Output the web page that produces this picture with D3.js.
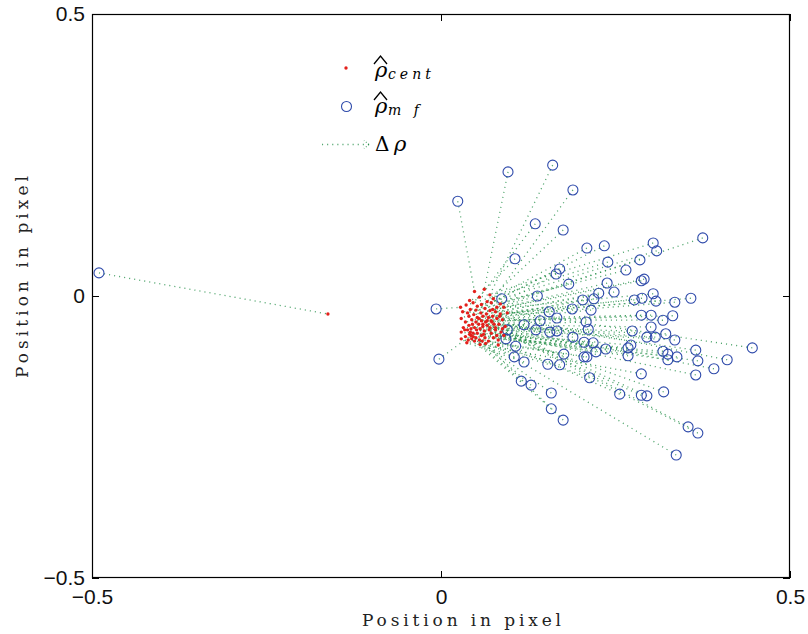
<!DOCTYPE html>
<html>
<head>
<meta charset="utf-8">
<script src="https://cdn.jsdelivr.net/npm/d3@7/dist/d3.min.js"></script>
<style>
  body { margin: 0; background: #fff; }
</style>
</head>
<body>
<svg id="chart" width="808" height="634"></svg>
<script>
// matched-filter estimates (circles)
const mfX = [-0.490, -0.007, -0.003, 0.024, 0.096, 0.160, 0.189, 0.135, 0.175, 0.209,
  0.234, 0.304, 0.309, 0.375, 0.106, 0.239, 0.285, 0.170, 0.165, 0.265,
  0.287, 0.291, 0.183, 0.238, 0.226, 0.248, 0.304, 0.277, 0.288, 0.308,
  0.335, 0.358, 0.138, 0.087, 0.203, 0.219, 0.188, 0.215, 0.155, 0.166,
  0.287, 0.301, 0.332, 0.318, 0.208, 0.142, 0.119, 0.211, 0.301, 0.136,
  0.156, 0.166, 0.095, 0.274, 0.295, 0.307, 0.322, 0.335, 0.093, 0.189,
  0.205, 0.218, 0.107, 0.268, 0.272, 0.236, 0.222, 0.365, 0.446, 0.318,
  0.325, 0.338, 0.176, 0.268, 0.205, 0.209, 0.410, 0.368, 0.325, 0.119,
  0.153, 0.170, 0.105, 0.391, 0.365, 0.287, 0.213, 0.115, 0.129, 0.158,
  0.256, 0.287, 0.295, 0.319, 0.158, 0.175, 0.354, 0.368, 0.337];
const mfY = [0.041, -0.023, -0.112, 0.168, 0.220, 0.232, 0.188, 0.128, 0.117, 0.085,
  0.089, 0.094, 0.080, 0.103, 0.066, 0.060, 0.064, 0.048, 0.039, 0.046,
  0.027, 0.030, 0.021, 0.023, 0.005, 0.007, 0.004, -0.007, -0.004, -0.009,
  -0.011, -0.004, 0.000, -0.005, -0.007, -0.005, -0.023, -0.025, -0.028, -0.039,
  -0.034, -0.034, -0.035, -0.043, -0.046, -0.044, -0.051, -0.059, -0.055, -0.060,
  -0.064, -0.062, -0.060, -0.062, -0.073, -0.073, -0.067, -0.078, -0.076, -0.073,
  -0.082, -0.083, -0.089, -0.092, -0.087, -0.094, -0.099, -0.096, -0.092, -0.098,
  -0.103, -0.108, -0.103, -0.106, -0.108, -0.108, -0.113, -0.115, -0.113, -0.117,
  -0.121, -0.122, -0.108, -0.129, -0.140, -0.138, -0.145, -0.151, -0.158, -0.172,
  -0.174, -0.176, -0.177, -0.170, -0.200, -0.220, -0.232, -0.243, -0.282];

// centroid estimates (red dots), same order
const centX = [-0.162, 0.028, 0.043, 0.048, 0.062, 0.070, 0.075, 0.055, 0.066, 0.058,
  0.072, 0.041, 0.052, 0.080, 0.046, 0.036, 0.063, 0.050, 0.085, 0.042,
  0.070, 0.090, 0.038, 0.057, 0.065, 0.078, 0.031, 0.047, 0.060, 0.085,
  0.052, 0.095, 0.040, 0.029, 0.068, 0.074, 0.044, 0.058, 0.035, 0.064,
  0.080, 0.050, 0.072, 0.088, 0.040, 0.054, 0.032, 0.066, 0.045, 0.076,
  0.060, 0.083, 0.038, 0.070, 0.056, 0.092, 0.048, 0.078, 0.029, 0.062,
  0.042, 0.086, 0.035, 0.052, 0.072, 0.058, 0.080, 0.066, 0.074, 0.046,
  0.090, 0.063, 0.039, 0.075, 0.055, 0.068, 0.084, 0.051, 0.061, 0.037,
  0.048, 0.064, 0.029, 0.078, 0.043, 0.056, 0.082, 0.041, 0.050, 0.034,
  0.082, 0.060, 0.088, 0.069, 0.044, 0.059, 0.073, 0.054, 0.046];
const centY = [-0.032, -0.020, -0.070, 0.008, 0.012, 0.002, -0.005, -0.002, -0.010, -0.015,
  -0.012, -0.008, -0.018, -0.020, -0.012, -0.016, -0.022, -0.025, -0.014, -0.024,
  -0.026, -0.020, -0.030, -0.030, -0.032, -0.028, -0.028, -0.033, -0.036, -0.032,
  -0.038, -0.030, -0.036, -0.040, -0.038, -0.036, -0.042, -0.044, -0.046, -0.046,
  -0.040, -0.046, -0.044, -0.042, -0.052, -0.050, -0.056, -0.052, -0.050, -0.050,
  -0.054, -0.050, -0.060, -0.056, -0.058, -0.054, -0.056, -0.060, -0.064, -0.062,
  -0.064, -0.064, -0.072, -0.066, -0.066, -0.070, -0.070, -0.044, -0.024, -0.072,
  -0.070, -0.074, -0.078, -0.074, -0.078, -0.080, -0.036, -0.060, -0.068, -0.083,
  -0.080, -0.084, -0.076, -0.056, -0.058, -0.086, -0.087, -0.068, -0.074, -0.060,
  -0.078, -0.050, -0.058, -0.060, -0.076, -0.080, -0.046, -0.040, -0.066];

const xTicks = [-0.5, 0, 0.5];
const yTicks = [-0.5, 0, 0.5];
const tickLabels = ["\u22120.5", "0", "0.5"];
const axisTitle = "Position in pixel";

function main() {
    const svg = d3.select("#chart");
    const left = 92, right = 790, top = 14, bottom = 578;

    const x = d3.scaleLinear().domain([-0.5, 0.5]).range([left, right]);
    const y = d3.scaleLinear().domain([-0.5, 0.5]).range([bottom, top]);

    const tickFont = "'Liberation Sans', Arial, sans-serif";
    const serif = "'DejaVu Serif', 'Liberation Serif', serif";

    const lineColor = "#1a8a40";
    const circleColor = "#2f4bab";
    const dotColor = "#e3211c";
    const dash = "1.1 4";

    // Δρ : dotted line from each mf estimate back to its centroid
    svg.append("g")
        .selectAll("line")
        .data(d3.range(mfX.length))
        .join("line")
        .attr("x1", i => x(mfX[i]))
        .attr("y1", i => y(mfY[i]))
        .attr("x2", i => x(centX[i]))
        .attr("y2", i => y(centY[i]))
        .attr("stroke", lineColor)
        .attr("stroke-width", 1.3)
        .attr("stroke-dasharray", dash)
        .attr("opacity", 0.75);

    svg.append("g")
        .selectAll("circle")
        .data(d3.range(mfX.length))
        .join("circle")
        .attr("cx", i => x(mfX[i]))
        .attr("cy", i => y(mfY[i]))
        .attr("r", 5)
        .attr("fill", "none")
        .attr("stroke", circleColor)
        .attr("stroke-width", 1.1);

    svg.append("g")
        .selectAll("circle")
        .data(d3.range(centX.length))
        .join("circle")
        .attr("cx", i => x(centX[i]))
        .attr("cy", i => y(centY[i]))
        .attr("r", 1.7)
        .attr("fill", dotColor);

    // 軸 (ticks inward on all four sides, labels only left / bottom)
    function styleAxis(g) {
        g.select(".domain").remove();
        g.selectAll(".tick line").attr("stroke", "#000");
        g.selectAll(".tick text")
            .attr("font-family", tickFont)
            .attr("font-size", 21)
            .attr("fill", "#111");
    }
    const fmt = d => tickLabels[xTicks.indexOf(d)];

    svg.append("g")
        .attr("transform", `translate(0,${bottom})`)
        .call(d3.axisBottom(x).tickValues(xTicks).tickFormat(fmt)
            .tickSizeInner(-7).tickSizeOuter(0).tickPadding(11))
        .call(styleAxis);
    svg.append("g")
        .attr("transform", `translate(${left},0)`)
        .call(d3.axisLeft(y).tickValues(yTicks).tickFormat(fmt)
            .tickSizeInner(-7).tickSizeOuter(0).tickPadding(7))
        .call(styleAxis);
    svg.append("g")
        .attr("transform", `translate(0,${top})`)
        .call(d3.axisTop(x).tickValues(xTicks).tickFormat("")
            .tickSizeInner(-7).tickSizeOuter(0))
        .call(styleAxis);
    svg.append("g")
        .attr("transform", `translate(${right},0)`)
        .call(d3.axisRight(y).tickValues(yTicks).tickFormat("")
            .tickSizeInner(-7).tickSizeOuter(0))
        .call(styleAxis);

    svg.append("rect")
        .attr("x", left + 0.5)
        .attr("y", top + 0.5)
        .attr("width", right - left - 1)
        .attr("height", bottom - top - 1)
        .attr("fill", "none")
        .attr("stroke", "#000")
        .attr("stroke-width", 1.2);

    // axis titles
    svg.append("text")
        .attr("x", 362)
        .attr("y", 626)
        .attr("textLength", 199)
        .attr("lengthAdjust", "spacing")
        .attr("font-family", serif)
        .attr("font-size", 17)
        .attr("fill", "#222")
        .text(axisTitle);
    svg.append("text")
        .attr("transform", "translate(28,378) rotate(-90)")
        .attr("textLength", 202)
        .attr("lengthAdjust", "spacing")
        .attr("font-family", serif)
        .attr("font-size", 17)
        .attr("fill", "#222")
        .text(axisTitle);

    // legend
    const lg = svg.append("g");
    lg.append("circle").attr("cx", 346).attr("cy", 68).attr("r", 1.7)
        .attr("fill", dotColor);
    lg.append("circle").attr("cx", 346.5).attr("cy", 106.5).attr("r", 5)
        .attr("fill", "none").attr("stroke", circleColor).attr("stroke-width", 1.1);
    lg.append("line").attr("x1", 322).attr("y1", 144.5).attr("x2", 369).attr("y2", 144.5)
        .attr("stroke", lineColor).attr("stroke-width", 1.3)
        .attr("stroke-dasharray", dash).attr("opacity", 0.75);
    [[-5, -4], [-5, 4]].forEach(([dx, dy]) => {
        lg.append("line").attr("x1", 369).attr("y1", 144.5)
            .attr("x2", 369 + dx).attr("y2", 144.5 + dy)
            .attr("stroke", lineColor).attr("stroke-width", 1.2)
            .attr("stroke-dasharray", "1 2").attr("opacity", 0.75);
    });

    /** ρ with a wide hat and a spaced subscript */
    function rhoHat(baseY, sub) {
        lg.append("path")
            .attr("d", `M374,${baseY - 13} L380.5,${baseY - 21} L387,${baseY - 13}`)
            .attr("fill", "none").attr("stroke", "#000").attr("stroke-width", 1.3);
        lg.append("text").attr("x", 375).attr("y", baseY)
            .attr("font-family", serif).attr("font-style", "italic").attr("font-size", 21)
            .text("\u03c1");
        lg.append("text").attr("x", 388).attr("y", baseY + 2)
            .attr("font-family", serif).attr("font-style", "italic").attr("font-size", 14)
            .attr("letter-spacing", 4)
            .text(sub);
    }
    rhoHat(77, "cent");
    rhoHat(113, "m f");

    lg.append("text").attr("x", 375).attr("y", 151)
        .attr("font-family", serif).attr("font-size", 20)
        .text("\u0394");
    lg.append("text").attr("x", 394).attr("y", 151)
        .attr("font-family", serif).attr("font-style", "italic").attr("font-size", 21)
        .text("\u03c1");
}

main();
</script>
</body>
</html>
